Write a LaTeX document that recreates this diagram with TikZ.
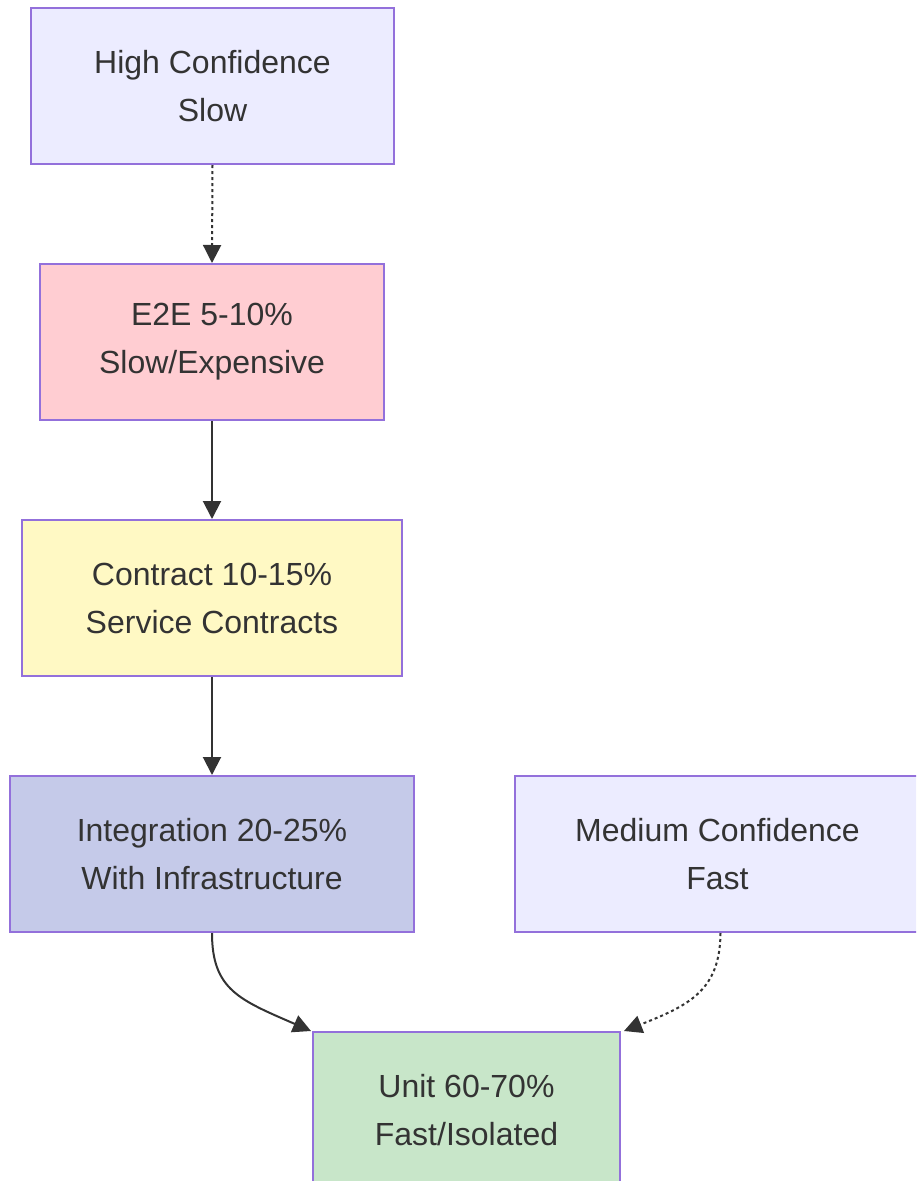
\documentclass[tikz,border=0pt]{standalone}
\usepackage{fontspec}
\setmainfont{Liberation Sans}
\usetikzlibrary{arrows.meta}
\definecolor{txt}{HTML}{333333}
\definecolor{edge}{HTML}{333333}
\definecolor{bord}{HTML}{9370DB}
\definecolor{lav}{HTML}{ECECFF}
\definecolor{pinkf}{HTML}{FFCDD2}
\definecolor{yelf}{HTML}{FFF9C4}
\definecolor{indf}{HTML}{C5CAE9}
\definecolor{grnf}{HTML}{C8E6C9}
\begin{document}
\begin{tikzpicture}[x=1pt,y=-1pt,
  box/.style={draw=bord,line width=2pt,inner sep=0pt,align=center,
    text=txt,font=\fontsize{32}{48}\selectfont,minimum height=156pt},
  link/.style={draw=edge,line width=2pt,-{Triangle[length=18pt,width=18pt]}},
  dotlink/.style={link,dash pattern=on 3pt off 3pt}]
\useasboundingbox (0,0) rectangle (916,1181);
\clip (0,0) rectangle (916,1181);
\fill[white] (0,0) rectangle (916,1181);

\node[box,fill=lav,minimum width=363pt] (high) at (212.5,86) {High Confidence\\Slow};
\node[box,fill=pinkf,minimum width=344pt] (e2e) at (212,342) {E2E 5-10\%\\Slow/Expensive};
\node[box,fill=yelf,minimum width=380pt] (contract) at (212,598) {Contract 10-15\%\\Service Contracts};
\node[box,fill=indf,minimum width=404pt] (integ) at (212,854) {Integration 20-25\%\\With Infrastructure};
\node[box,fill=lav,minimum width=405pt] (medium) at (717.5,854) {Medium Confidence\\Fast};
\node[box,fill=grnf,minimum width=307pt] (unit) at (466.5,1110) {Unit 60-70\%\\Fast/Isolated};

\draw[dotlink] (high.south) -- (e2e.north);
\draw[link] (e2e.south) -- (contract.north);
\draw[link] (contract.south) -- (integ.north);
\coordinate (ua) at ([xshift=-1pt]unit.north west);
\coordinate (ub) at ([xshift=3pt]unit.north east);
\coordinate (ia) at (integ.south);
\coordinate (ma) at ([xshift=3pt]medium.south);
\draw[link] (ia) .. controls (212,990) and (240,1000) .. (ua);
\draw[dotlink] (ma) .. controls (720,990) and (690,1005) .. (ub);
\end{tikzpicture}
\end{document}
